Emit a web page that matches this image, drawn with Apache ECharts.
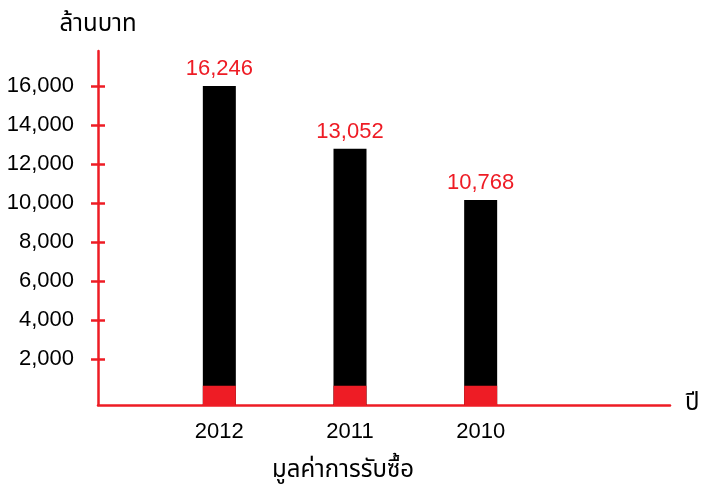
<!DOCTYPE html>
<html>
<head>
<meta charset="UTF-8">
<title></title>
<script src="https://cdn.jsdelivr.net/npm/echarts@6/dist/echarts.min.js"></script>
<style>
    html, body { margin: 0; padding: 0; background: #fff; }
</style>
</head>
<body>
<div id="main" style="width: 701px;height:494px;"></div>
<script>
    // data
    var years = ['2012', '2011', '2010'];
    var totals = [16246, 13052, 10768];      // red labels above the bars
    var barTops = [16246, 13052, 10440];     // bar heights as drawn
    var redBase = [980, 980, 980];           // red bottom part of each bar
    var yTicks = [2000, 4000, 6000, 8000, 10000, 12000, 14000, 16000];

    var RED = '#ee1c25';
    var FONT = '"Liberation Sans", Arial, Helvetica, sans-serif';
    var THAI = '"Noto Sans Thai", "Noto Sans", "DejaVu Sans", sans-serif';

    var myChart = echarts.init(document.getElementById('main'));

    var option = {
        animation: false,
        grid: [
            // axis frame
            {left: 98, right: 31, top: 51, bottom: 89, outerBoundsMode: 'none'},
            // bars
            {left: 154, right: 155, top: 51, bottom: 89, outerBoundsMode: 'none'}
        ],
        xAxis: [
            {
                gridIndex: 0, type: 'value', min: 0, max: 1, position: 'bottom',
                axisLine: {show: true, onZero: false, lineStyle: {color: RED, width: 2.5}},
                axisTick: {show: false}, axisLabel: {show: false}, splitLine: {show: false},
                name: 'ปี', nameLocation: 'end', nameGap: 15,
                nameTextStyle: {color: '#000', fontSize: 24, fontFamily: THAI}
            },
            {
                gridIndex: 1, type: 'category', data: years, position: 'bottom',
                axisLine: {show: false, onZero: false}, axisTick: {show: false},
                axisLabel: {color: '#000', fontSize: 22, fontFamily: FONT, margin: 16}
            }
        ],
        yAxis: [
            {
                // red vertical line
                gridIndex: 0, type: 'value', min: -340, max: 17780, position: 'left',
                axisLine: {show: true, onZero: false, lineStyle: {color: RED, width: 2.5}},
                axisTick: {show: false}, axisLabel: {show: false}, splitLine: {show: false},
                name: 'ล้านบาท', nameLocation: 'end', nameGap: 13,
                nameTextStyle: {color: '#000', fontSize: 24, fontFamily: THAI, align: 'center'}
            },
            {
                // crossing ticks + labels
                gridIndex: 0, type: 'value', min: -340, max: 17780, position: 'left', offset: -7,
                axisLine: {show: false, onZero: false},
                axisTick: {show: true, length: 14, customValues: yTicks,
                    lineStyle: {color: RED, width: 2.5}},
                axisLabel: {customValues: yTicks, color: '#000', fontSize: 22, fontFamily: FONT, margin: 31,
                    formatter: function (v) { return v.toLocaleString('en-US'); }},
                splitLine: {show: false}
            },
            {
                gridIndex: 1, type: 'value', min: 0, max: 18030, position: 'left', show: false
            }
        ],
        series: [
            {
                name: 'total', type: 'bar', xAxisIndex: 1, yAxisIndex: 2,
                barWidth: 33, data: barTops,
                itemStyle: {color: '#000'},
                label: {
                    show: true, position: 'top', distance: 6,
                    color: RED, fontSize: 22, fontFamily: FONT,
                    formatter: function (p) { return totals[p.dataIndex].toLocaleString('en-US'); }
                }
            },
            {
                name: 'base', type: 'bar', xAxisIndex: 1, yAxisIndex: 2,
                barWidth: 33, barGap: '-100%', data: redBase,
                itemStyle: {color: RED}
            }
        ],
        graphic: [
            {
                type: 'text', x: 343, y: 472,
                style: {text: 'มูลค่าการรับซื้อ', fill: '#000', font: '24px ' + THAI,
                    textAlign: 'center', textVerticalAlign: 'middle'}
            }
        ]
    };

    myChart.setOption(option);
</script>
</body>
</html>
